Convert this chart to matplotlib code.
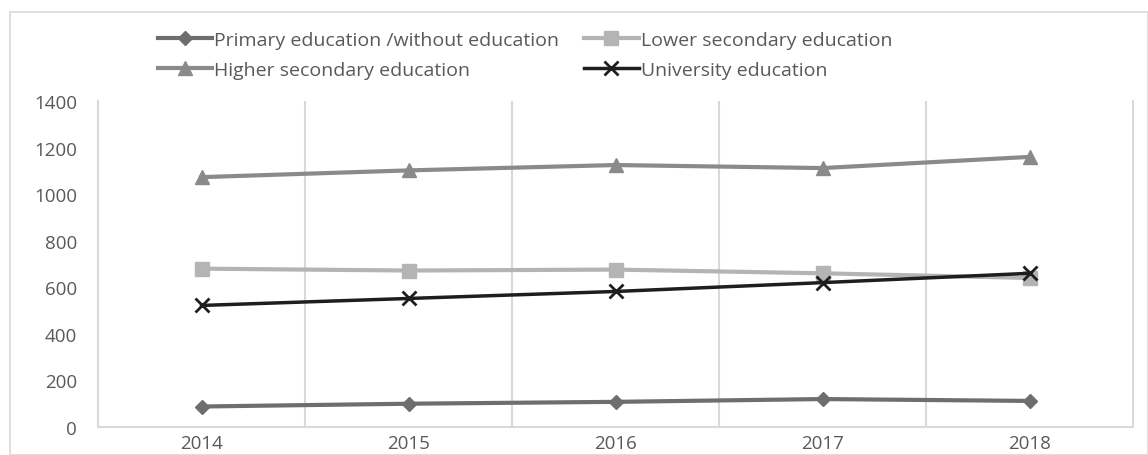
import matplotlib.pyplot as plt
from matplotlib.patches import Rectangle

plt.rcParams['font.family'] = ['Open Sans', 'DejaVu Sans']

# Data
years = ["2014", "2015", "2016", "2017", "2018"]
primary = [88, 100, 108, 120, 112]
lower_secondary = [680, 672, 676, 660, 640]
higher_secondary = [1073, 1102, 1125, 1112, 1160]
university = [522, 552, 582, 620, 660]

x = list(range(len(years)))

fig = plt.figure(figsize=(11.48, 4.56), dpi=100)
ax = fig.add_axes([98 / 1148, 28 / 456, (1133 - 98) / 1148, (428 - 102) / 456])

# outer chart border
fig.patches.append(Rectangle((10 / 1148, 0), 1138 / 1148, 443 / 456,
                             transform=fig.transFigure, fill=False,
                             edgecolor='#d9d9d9', linewidth=1.2))

l1, = ax.plot(x, primary, color='#6e6e6e', lw=3, marker='D', ms=7,
              label='Primary education /without education')
l2, = ax.plot(x, lower_secondary, color='#b4b4b4', lw=3, marker='s', ms=10,
              label='Lower secondary education')
l3, = ax.plot(x, higher_secondary, color='#8a8a8a', lw=3, marker='^', ms=10,
              label='Higher secondary education')
l4, = ax.plot(x, university, color='#1e1e1e', lw=2.5, marker='x', ms=10,
              mew=2, label='University education')

ax.set_xlim(-0.5, 4.5)
ax.set_ylim(0, 1400)
ax.set_yticks(range(0, 1401, 200))
ax.set_xticks(x)
ax.set_xticklabels(years)

# vertical grid lines between categories
for b in [0.5, 1.5, 2.5, 3.5]:
    ax.axvline(b, color='#d9d9d9', lw=1.5, zorder=0)

ax.spines['top'].set_visible(False)
for side in ['left', 'bottom', 'right']:
    ax.spines[side].set_color('#d9d9d9')
    ax.spines[side].set_linewidth(1.5)

ax.tick_params(axis='both', length=0, labelsize=13.5, labelcolor='#595959')
ax.tick_params(axis='y', pad=15)
ax.tick_params(axis='x', pad=5)

fig.legend([l1, l3, l2, l4],
           [l1.get_label(), l3.get_label(), l2.get_label(), l4.get_label()],
           ncol=2, loc='upper left', bbox_to_anchor=(140 / 1148, 1 - 14 / 456),
           frameon=False, fontsize=14, handlelength=2.8, handletextpad=0.1,
           columnspacing=1.3, labelspacing=0.65, labelcolor='#595959')

fig.savefig('out.png', dpi=100)
